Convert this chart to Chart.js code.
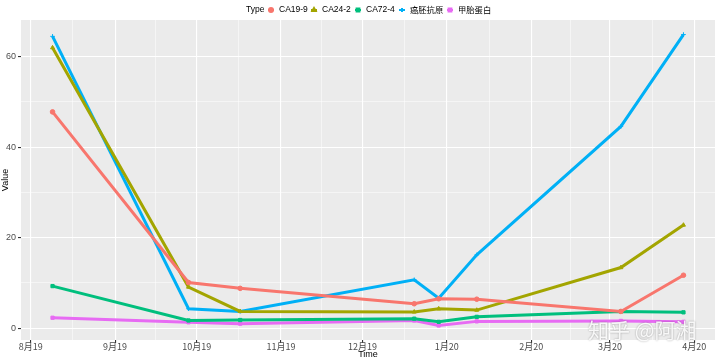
<!DOCTYPE html>
<html><head><meta charset="utf-8">
<script src="https://cdn.jsdelivr.net/npm/chart.js@4"></script>
<style>html,body{margin:0;padding:0;background:#fff}#wrap{width:720px;height:362px}</style>
</head><body><div id="wrap"><canvas id="c" width="720" height="362"></canvas></div>
<script>
const dates = ['2019-08-09','2019-09-28','2019-10-17','2019-12-20','2019-12-29','2020-01-12','2020-03-05','2020-03-28'];
const seriesNames = ['CA19-9','CA24-2','CA72-4','癌胚抗原','甲胎蛋白'];
const ca199 = [47.8, 10.1, 8.8, 5.4, 6.5, 6.4, 3.7, 11.7];
const ca242 = [62.0, 9.1, 3.7, 3.6, 4.3, 4.0, 13.4, 22.8];
const ca724 = [9.3, 1.7, 1.8, 2.1, 1.4, 2.5, 3.7, 3.5];
const cea   = [64.5, 4.3, 3.7, 10.7, 6.6, 16.2, 44.6, 64.9];
const afp   = [2.3, 1.3, 1.0, 1.7, 0.6, 1.5, 1.6, 1.4];
const monthStarts = ['2019-08-01','2019-09-01','2019-10-01','2019-11-01','2019-12-01','2020-01-01','2020-02-01','2020-03-01','2020-04-01'];
const xTickLabels = ['8月19','9月19','10月19','11月19','12月19','1月20','2月20','3月20','4月20'];
const yMajor = [0,20,40,60];
const yMinor = [10,30,50];

const colors = ['#F8766D','#A3A500','#00BF7D','#00B0F6','#E76BF3'];
const shapes = ['circle','triangle','rect','cross','rect'];
const base = Date.UTC(2019,7,1);
const toDay = s => { const [y,m,d] = s.split('-').map(Number); return (Date.UTC(y,m-1,d)-base)/86400000; };
const xs = dates.map(toDay);
const majorX = monthStarts.map(toDay);
const minorX = [];
for (let i=0;i<majorX.length-1;i++) minorX.push((majorX[i]+majorX[i+1])/2);
const span = xs[xs.length-1]-xs[0];
const xmin = xs[0]-0.05*span, xmax = xs[xs.length-1]+0.05*span;
const all = [].concat(ca199,ca242,ca724,cea,afp);
const lo = Math.min(...all), hi = Math.max(...all);
const ymin = lo-0.05*(hi-lo), ymax = hi+0.05*(hi-lo);

const vals = [ca199,ca242,ca724,cea,afp];
const datasets = vals.map((v,i)=>({
  label: seriesNames[i],
  data: v.map((y,j)=>({x: xs[j], y})),
  borderColor: colors[i], backgroundColor: colors[i],
  borderWidth: 3, pointRadius: 2.3, pointStyle: shapes[i],
  pointBorderWidth: 1, tension: 0
}));

const majorSet = new Set(majorX);
const panelBg = {
  id:'panelBg',
  beforeDraw(chart){
    const {ctx, chartArea:a} = chart;
    ctx.save(); ctx.fillStyle='#EBEBEB';
    ctx.fillRect(a.left,a.top,a.right-a.left,a.bottom-a.top); ctx.restore();
  }
};
const legendPlug = {
  id:'legendPlug',
  afterDraw(chart){
    const ctx = chart.ctx; ctx.save();
    ctx.textBaseline='middle';
    const y = 10;
    ctx.fillStyle='#000';
    ctx.font = '8.5px "Liberation Sans", Arial, sans-serif';
    ctx.fillText('Type', 246, y);
    const mx = [271,314,358,402,450];
    seriesNames.forEach((n,i)=>{
      ctx.strokeStyle = colors[i]; ctx.lineWidth = 2;
      ctx.beginPath(); ctx.moveTo(mx[i]-3,y); ctx.lineTo(mx[i]+3,y); ctx.stroke();
      ctx.fillStyle = colors[i];
      Chart.helpers.drawPoint(ctx,{pointStyle:shapes[i],radius:2,borderWidth:1},mx[i],y);
      ctx.fillStyle='#000';
      ctx.font = (i>=3 ? '8.3px "Noto Sans CJK SC", sans-serif' : '8.5px "Liberation Sans", Arial, sans-serif');
      ctx.fillText(n, mx[i]+8, y);
    });
    // watermark
    ctx.font = '21px "Noto Sans CJK SC", sans-serif';
    ctx.textBaseline='alphabetic';
    ctx.shadowColor='rgba(0,0,0,0.4)'; ctx.shadowBlur=2;
    ctx.fillStyle='rgba(255,255,255,0.9)';
    ctx.fillText('知乎 @阿湘', 588, 338);
    ctx.restore();
  }
};

new Chart(document.getElementById('c'), {
  type:'line',
  data:{datasets},
  plugins:[panelBg, legendPlug],
  options:{
    responsive:false, animation:false,
    layout:{padding:{top:20,right:2,left:0,bottom:0}},
    plugins:{legend:{display:false}, tooltip:{enabled:false}},
    scales:{
      x:{
        type:'linear', min:xmin, max:xmax,
        afterBuildTicks(s){ s.ticks = majorX.concat(minorX).sort((a,b)=>a-b).map(v=>({value:v})); },
        afterFit(s){ s.height = 22; },
        ticks:{ autoSkip:false, maxRotation:0, padding:-2, color:'#4D4D4D',
          font:{size:9, family:'"Noto Sans CJK SC", "Liberation Sans", sans-serif'},
          callback:(v)=>{ const k = majorX.indexOf(v); return k>=0 ? xTickLabels[k] : ''; } },
        grid:{ color:'#FFFFFF', tickLength:3,
          lineWidth:(c)=> (c.tick && majorSet.has(c.tick.value)) ? 1.1 : 0.5,
          tickColor:(c)=> (c.tick && majorSet.has(c.tick.value)) ? '#333333' : 'rgba(0,0,0,0)' },
        border:{display:false},
        title:{display:true, text:'Time', color:'#000', padding:{top:0,bottom:2},
          font:{size:9, family:'"Liberation Sans", Arial, sans-serif'}}
      },
      y:{
        type:'linear', min:ymin, max:ymax,
        afterBuildTicks(s){ s.ticks = yMajor.concat(yMinor).sort((a,b)=>a-b).map(v=>({value:v})); },
        afterFit(s){ s.width = 21; },
        ticks:{ autoSkip:false, padding:2, color:'#4D4D4D',
          font:{size:9, family:'"Liberation Sans", Arial, sans-serif'},
          callback:(v)=> yMajor.includes(v) ? String(v) : '' },
        grid:{ color:'#FFFFFF', tickLength:3,
          lineWidth:(c)=> (c.tick && yMajor.includes(c.tick.value)) ? 1.1 : 0.5,
          tickColor:(c)=> (c.tick && yMajor.includes(c.tick.value)) ? '#333333' : 'rgba(0,0,0,0)' },
        border:{display:false},
        title:{display:true, text:'Value', color:'#000', padding:{top:0,bottom:0},
          font:{size:9, family:'"Liberation Sans", Arial, sans-serif'}}
      }
    }
  }
});
</script></body></html>
